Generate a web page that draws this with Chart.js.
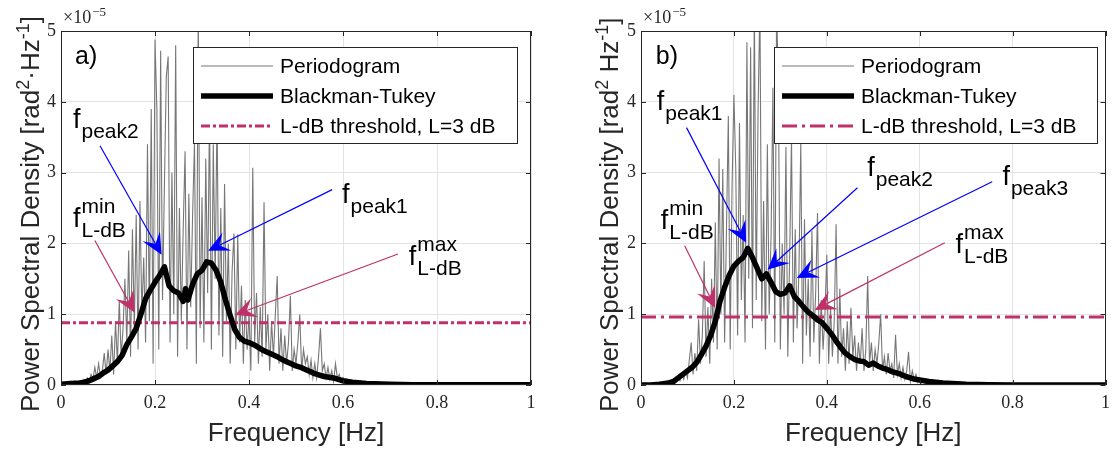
<!DOCTYPE html>
<html>
<head>
<meta charset="utf-8">
<script src="https://cdn.jsdelivr.net/npm/chart.js@4.4.0/dist/chart.umd.min.js"></script>
<style>
  html, body { margin: 0; padding: 0; background: #fff; }
  #wrap { position: relative; width: 1117px; height: 452px; }
  canvas { position: absolute; top: 0; }
  #chartA { left: 0; }
  #chartB { left: 557px; }
</style>
</head>
<body>
<div id="wrap">
  <canvas id="chartA" width="557" height="452"></canvas>
  <canvas id="chartB" width="560" height="452"></canvas>
</div>
<script>
'use strict';

// ---- data (PSD values in units of 1e-5) ----
const xTickVals = [0, 0.2, 0.4, 0.6, 0.8, 1];
const yTickVals = [0, 1, 2, 3, 4, 5];

// periodogram sampled every 0.004 Hz from 0 Hz
const perStart = 0;
const perStep = 0.004;

const perA = [
  0, 0.01, 0.02, 0.01, 0.03, 0.02, 0.04, 0.02, 0.05, 0.03, 0.06, 0.04, 0.08, 0.05, 0.1,
  0.05, 0.15, 0.08, 0.25, 0.1, 0.3, 0.12, 0.2, 0.45, 0.15,
  0.5, 0.2, 0.7, 0.15, 0.9, 0.3, 1.2, 0.4, 0.8, 1.5,
  0.6, 1.9, 0.4, 2.2, 0.8, 2.4, 0.5, 2.6, 1.0, 1.8,
  0.6, 3.4, 0.9, 3.9, 0.3, 4.88, 3.9, 0.5, 4.72, 1.2,
  2.8, 4.35, 4.64, 0.6, 3.0, 1.0, 4.8, 0.4, 2.5, 0.9,
  2.2, 3.3, 0.5, 2.7, 1.1, 2.4, 3.42, 0.3, 5.3, 0.8,
  2.65, 0.6, 3.2, 1.3, 3.86, 0.5, 3.4, 1.5, 3.86, 0.7,
  2.5, 0.4, 2.84, 0.9, 2.0, 0.3, 1.6, 2.14, 0.5, 2.13,
  0.6, 1.4, 0.3, 1.2, 0.5, 1.0, 0.2, 3.07, 0.6, 1.3,
  0.3, 1.1, 0.4, 2.58, 0.5, 1.0, 0.2, 0.9, 0.4, 1.0,
  1.54, 0.3, 0.8, 0.2, 0.7, 0.3, 0.6, 1.26, 0.2, 0.5,
  0.3, 0.6, 1.0, 0.2, 0.5, 0.3, 0.4, 0.15, 0.35, 0.1,
  0.3, 0.1, 0.4, 0.8, 0.2, 0.3, 0.1, 0.25, 0.08, 0.2,
  0.05, 0.3, 0.1, 0.15, 0.05, 0.1, 0.03, 0.08, 0.02, 0.05,
  0.01, 0.03, 0.01, 0.02, 0.005, 0.015, 0.01, 0.02, 0.005, 0.01,
  0.005, 0.01, 0.004, 0.008, 0.003, 0.006, 0.003, 0.005, 0.002, 0.004
];

const perB = [
  0, 0, 0.01, 0, 0.01, 0.02, 0.01, 0.02, 0.03, 0.02, 0.04, 0.02, 0.05, 0.03, 0.06,
  0.02, 0.05, 0.03, 0.08, 0.05, 0.1, 0.06, 0.15, 0.08, 0.2,
  0.1, 0.35, 0.6, 0.15, 0.45, 0.2, 0.93, 0.3, 0.7, 1.75,
  0.4, 1.1, 0.3, 1.5, 0.6, 2.3, 0.5, 3.2, 1.0, 3.05,
  0.6, 2.2, 3.8, 0.5, 2.8, 4.1, 3.06, 0.7, 3.7, 1.2,
  2.4, 0.6, 4.84, 1.5, 4.77, 0.8, 5.4, 1.2, 3.85, 5.4,
  0.9, 2.6, 0.5, 3.4, 1.0, 2.1, 4.2, 0.6, 5.4, 4.0,
  0.5, 2.0, 1.0, 3.36, 0.4, 1.8, 3.5, 0.6, 2.2, 0.8,
  1.6, 3.42, 0.3, 2.34, 0.7, 1.5, 0.4, 2.18, 0.6, 1.3,
  2.43, 0.3, 1.2, 0.5, 1.0, 1.84, 0.3, 1.1, 0.4, 0.9,
  2.27, 0.3, 1.36, 0.4, 0.8, 0.2, 0.9, 0.3, 1.09, 0.4,
  0.7, 0.2, 0.6, 0.3, 0.8, 0.2, 0.5, 1.54, 0.3, 0.6,
  0.2, 0.5, 0.3, 0.6, 1.0, 0.2, 0.4, 0.15, 0.45, 0.2,
  0.3, 0.1, 0.71, 0.15, 0.3, 0.1, 0.25, 0.08, 0.2, 0.47,
  0.05, 0.2, 0.08, 0.15, 0.04, 0.1, 0.03, 0.07, 0.02, 0.04,
  0.01, 0.02, 0.01, 0.015, 0.005, 0.01, 0.005, 0.01, 0.004, 0.006,
  0.003, 0.005, 0.002, 0.004, 0.002, 0.003, 0.001, 0.002, 0.001, 0.001
];

// Blackman-Tukey estimates
const btFreqA = [0, 0.02, 0.04, 0.05, 0.06, 0.07, 0.08, 0.09, 0.10, 0.11, 0.12, 0.13, 0.14,
  0.15, 0.16, 0.17, 0.18, 0.19, 0.20, 0.21, 0.22, 0.23, 0.24, 0.25, 0.26, 0.265, 0.27,
  0.28, 0.29, 0.30, 0.31, 0.32, 0.33, 0.34, 0.35, 0.36, 0.37, 0.38, 0.39, 0.40, 0.41,
  0.42, 0.43, 0.44, 0.45, 0.46, 0.47, 0.48, 0.49, 0.50, 0.51, 0.52, 0.53, 0.54, 0.55,
  0.56, 0.57, 0.58, 0.59, 0.60, 0.62, 0.65, 0.70, 0.75, 0.80, 0.90, 1.0];
const btA = [0.01, 0.02, 0.03, 0.04, 0.06, 0.09, 0.12, 0.17, 0.21, 0.27, 0.33, 0.42, 0.57,
  0.68, 0.80, 1.0, 1.22, 1.34, 1.45, 1.55, 1.67, 1.40, 1.33, 1.30, 1.18, 1.36, 1.2,
  1.42, 1.57, 1.62, 1.74, 1.72, 1.62, 1.45, 1.2, 0.98, 0.78, 0.67, 0.62, 0.6, 0.57,
  0.53, 0.49, 0.46, 0.43, 0.4, 0.36, 0.33, 0.3, 0.27, 0.25, 0.22, 0.19, 0.16, 0.14,
  0.12, 0.11, 0.1, 0.08, 0.06, 0.04, 0.02, 0.01, 0.005, 0.003, 0.002, 0.002];

const btFreqB = [0, 0.02, 0.04, 0.06, 0.07, 0.08, 0.09, 0.10, 0.11, 0.12, 0.13, 0.14, 0.15,
  0.16, 0.17, 0.18, 0.19, 0.20, 0.21, 0.22, 0.23, 0.24, 0.25, 0.26, 0.27, 0.28, 0.29,
  0.30, 0.31, 0.32, 0.33, 0.34, 0.35, 0.36, 0.37, 0.38, 0.39, 0.40, 0.41, 0.42, 0.43,
  0.44, 0.45, 0.46, 0.47, 0.48, 0.49, 0.50, 0.51, 0.52, 0.53, 0.54, 0.55, 0.56, 0.57,
  0.58, 0.59, 0.60, 0.62, 0.65, 0.70, 0.75, 0.80, 1.0];
const btB = [0, 0, 0.01, 0.03, 0.05, 0.1, 0.15, 0.2, 0.25, 0.32, 0.43, 0.55, 0.7,
  0.9, 1.18, 1.38, 1.55, 1.68, 1.75, 1.8, 1.93, 1.8, 1.65, 1.5, 1.57, 1.45, 1.32,
  1.28, 1.3, 1.4, 1.25, 1.18, 1.1, 1.03, 0.98, 0.92, 0.88, 0.8, 0.72, 0.62, 0.53,
  0.45, 0.4, 0.36, 0.34, 0.33, 0.28, 0.31, 0.27, 0.24, 0.22, 0.19, 0.17, 0.15, 0.12,
  0.1, 0.08, 0.07, 0.05, 0.03, 0.01, 0.005, 0, 0];

const thresholdA = 0.88;
const thresholdB = 0.96;

const legendLabels = ['Periodogram', 'Blackman-Tukey', 'L-dB threshold, L=3 dB'];

// ---- colours ----
const gray = '#777777';
const crimson = '#c0306a';
const blue = '#0000ff';
const axisCol = '#262626';

function gridPoints(start, step, vals) {
  return vals.map((v, i) => ({ x: +(start + i * step).toFixed(4), y: v }));
}
function zip(xs, ys) {
  return xs.map((x, i) => ({ x: x, y: ys[i] }));
}

function richText(ctx, parts, x, y) {
  let cx = x;
  for (let p of parts) {
    ctx.font = `${p.size}px "Liberation Sans", Arial, sans-serif`;
    ctx.fillText(p.t, cx, y + (p.dy || 0));
    cx += ctx.measureText(p.t).width;
  }
  return cx;
}

function drawArrow(ctx, x1, y1, x2, y2, color) {
  const dx = x2 - x1, dy = y2 - y1, len = Math.hypot(dx, dy);
  const ux = dx / len, uy = dy / len, nx = -uy, ny = ux;
  const L = 21, W = 10;
  ctx.strokeStyle = color;
  ctx.fillStyle = color;
  ctx.lineWidth = 1.2;
  ctx.setLineDash([]);
  ctx.beginPath();
  ctx.moveTo(x1, y1);
  ctx.lineTo(x2 - ux * L * 0.6, y2 - uy * L * 0.6);
  ctx.stroke();
  ctx.beginPath();
  ctx.moveTo(x2, y2);
  ctx.lineTo(x2 - ux * L + nx * W, y2 - uy * L + ny * W);
  ctx.lineTo(x2 - ux * L * 0.6, y2 - uy * L * 0.6);
  ctx.lineTo(x2 - ux * L - nx * W, y2 - uy * L - ny * W);
  ctx.closePath();
  ctx.fill();
}

// MATLAB-like decorations: box, inward ticks, labels, legend, annotations
const decoPlugin = {
  id: 'deco',
  afterDraw(chart, args, o) {
    const ctx = chart.ctx;
    const xs = chart.scales.x, ys = chart.scales.y;
    const a = chart.chartArea;
    const px = v => xs.getPixelForValue(v);
    const py = v => ys.getPixelForValue(v);
    ctx.save();

    // box + inward ticks
    ctx.strokeStyle = axisCol;
    ctx.lineWidth = 1;
    ctx.setLineDash([]);
    ctx.beginPath();
    for (let v of xTickVals) {
      const x = Math.round(px(v)) + 0.5;
      ctx.moveTo(x, a.bottom); ctx.lineTo(x, a.bottom - 5);
      ctx.moveTo(x, a.top); ctx.lineTo(x, a.top + 5);
    }
    for (let v of yTickVals) {
      const y = Math.round(py(v)) + 0.5;
      ctx.moveTo(a.left, y); ctx.lineTo(a.left + 5, y);
      ctx.moveTo(a.right, y); ctx.lineTo(a.right - 5, y);
    }
    ctx.stroke();
    ctx.strokeRect(Math.round(a.left) + 0.5, Math.round(a.top) + 0.5,
      Math.round(a.right - a.left) - 1, Math.round(a.bottom - a.top) - 1);

    // exponent label
    ctx.fillStyle = axisCol;
    ctx.textBaseline = 'alphabetic';
    ctx.textAlign = 'left';
    ctx.font = '18px "Liberation Serif", serif';
    ctx.fillText('\u00d710', a.left + 2, 23);
    const w10 = ctx.measureText('\u00d710').width;
    ctx.font = '13px "Liberation Serif", serif';
    ctx.fillText('\u22125', a.left + 3 + w10, 16);

    // axis titles
    ctx.fillStyle = axisCol;
    ctx.font = '26px "Liberation Sans", Arial, sans-serif';
    ctx.textAlign = 'center';
    ctx.fillText('Frequency [Hz]', (a.left + a.right) / 2, 441);
    ctx.textAlign = 'left';
    ctx.save();
    ctx.translate(o.yTitleX, 412);
    ctx.rotate(-Math.PI / 2);
    richText(ctx, o.yTitle, 0, 0);
    ctx.restore();

    // panel label
    ctx.fillStyle = '#000';
    ctx.font = '25px "Liberation Sans", Arial, sans-serif';
    ctx.fillText(o.label.text, px(o.label.x), py(o.label.y));

    // legend
    const lg = o.legend;
    const lx = a.left + lg.dx, ly = a.top + lg.dy;
    ctx.fillStyle = '#fff';
    ctx.fillRect(lx, ly, lg.w, lg.h);
    ctx.strokeStyle = axisCol;
    ctx.lineWidth = 1;
    ctx.strokeRect(Math.round(lx) + 0.5, Math.round(ly) + 0.5, lg.w, lg.h);
    [0, 1, 2].forEach(row => {
      const ds = chart.data.datasets[row];
      const ry = ly + 19 + row * 30;
      ctx.strokeStyle = ds.borderColor;
      ctx.lineWidth = ds.borderWidth;
      ctx.setLineDash(ds.borderDash || []);
      ctx.beginPath();
      ctx.moveTo(lx + 8, ry);
      ctx.lineTo(lx + 80, ry);
      ctx.stroke();
      ctx.setLineDash([]);
      ctx.fillStyle = '#000';
      ctx.font = '21px "Liberation Sans", Arial, sans-serif';
      ctx.textBaseline = 'middle';
      ctx.fillText(legendLabels[row], lx + 87, ry + 1);
    });
    ctx.textBaseline = 'alphabetic';

    // arrows
    for (let ar of o.arrows) {
      drawArrow(ctx, px(ar.from[0]), py(ar.from[1]), px(ar.to[0]), py(ar.to[1]), ar.color);
    }

    // f labels with sub/superscripts
    ctx.fillStyle = '#000';
    for (let t of o.texts) {
      const x = px(t.x), y = py(t.y);
      ctx.font = '27px "Liberation Sans", Arial, sans-serif';
      ctx.fillText('f', x, y);
      const fx = x + ctx.measureText('f').width + 1;
      ctx.font = '21px "Liberation Sans", Arial, sans-serif';
      if (t.sup) ctx.fillText(t.sup, fx, y - 14);
      if (t.sub) ctx.fillText(t.sub, fx, y + 10);
    }
    ctx.restore();
  }
};

function makeChart(canvasId, per, btF, bt, thr, yAxisWidth, rightPad, deco, dash) {
  const tickFont = { family: '"Liberation Serif", serif', size: 18 };
  return new Chart(document.getElementById(canvasId), {
    type: 'line',
    data: {
      datasets: [
        {
          label: legendLabels[0],
          data: gridPoints(perStart, perStep, per),
          borderColor: gray,
          borderWidth: 1.1,
          pointRadius: 0,
          order: 3
        },
        {
          label: legendLabels[1],
          data: zip(btF, bt),
          borderColor: '#000',
          borderWidth: 5.5,
          borderJoinStyle: 'round',
          pointRadius: 0,
          order: 1
        },
        {
          label: legendLabels[2],
          data: [{ x: 0, y: thr }, { x: 1, y: thr }],
          borderColor: crimson,
          borderWidth: 3,
          borderDash: dash,
          pointRadius: 0,
          order: 2
        }
      ]
    },
    options: {
      responsive: false,
      animation: false,
      parsing: false,
      layout: { padding: { top: 31, right: rightPad, left: 0, bottom: 0 } },
      plugins: {
        legend: { display: false },
        tooltip: { enabled: false },
        deco: deco
      },
      scales: {
        x: {
          type: 'linear',
          min: 0,
          max: 1,
          afterFit: s => { s.height = 67; },
          grid: { color: '#e3e3e3', drawTicks: false },
          border: { display: false },
          ticks: {
            stepSize: 0.2,
            autoSkip: false,
            maxRotation: 0,
            padding: 7,
            color: axisCol,
            font: tickFont,
            callback: v => String(+v.toFixed(1))
          }
        },
        y: {
          type: 'linear',
          min: 0,
          max: 5,
          afterFit: s => { s.width = yAxisWidth; },
          grid: { color: '#e3e3e3', drawTicks: false },
          border: { display: false },
          ticks: {
            stepSize: 1,
            padding: 5,
            color: axisCol,
            font: tickFont
          }
        }
      }
    },
    plugins: [decoPlugin]
  });
}

const decoA = {
  yTitleX: 39,
  yTitle: [
    { t: 'Power Spectral Density [rad', size: 26 },
    { t: '2', size: 18, dy: -10 },
    { t: '\u00b7Hz', size: 26 },
    { t: '-1', size: 18, dy: -10 },
    { t: ']', size: 26 }
  ],
  label: { text: 'a)', x: 0.030, y: 4.53 },
  legend: { dx: 132, dy: 16, w: 324, h: 96 },
  texts: [
    { x: 0.0255, y: 3.635, sub: 'peak2' },
    { x: 0.598, y: 2.574, sub: 'peak1' },
    { x: 0.0255, y: 2.235, sup: 'min', sub: 'L-dB' },
    { x: 0.740, y: 1.70, sup: 'max', sub: 'L-dB' }
  ],
  arrows: [
    { from: [0.083, 3.38], to: [0.214, 1.84], color: blue },
    { from: [0.577, 2.76], to: [0.313, 1.895], color: blue },
    { from: [0.072, 2.04], to: [0.157, 1.02], color: crimson },
    { from: [0.717, 1.85], to: [0.370, 0.99], color: crimson }
  ]
};

const decoB = {
  yTitleX: 618 - 557,
  yTitle: [
    { t: 'Power Spectral Density [rad', size: 26 },
    { t: '2', size: 18, dy: -10 },
    { t: ' Hz', size: 26 },
    { t: '-1', size: 18, dy: -10 },
    { t: ']', size: 26 }
  ],
  label: { text: 'b)', x: 0.032, y: 4.53 },
  legend: { dx: 133, dy: 16, w: 323, h: 96 },
  texts: [
    { x: 0.034, y: 3.89, sub: 'peak1' },
    { x: 0.487, y: 2.956, sub: 'peak2' },
    { x: 0.778, y: 2.83, sub: 'peak3' },
    { x: 0.0427, y: 2.207, sup: 'min', sub: 'L-dB' },
    { x: 0.677, y: 1.867, sup: 'max', sub: 'L-dB' }
  ],
  arrows: [
    { from: [0.098, 3.635], to: [0.2265, 2.01], color: blue },
    { from: [0.466, 2.786], to: [0.2724, 1.627], color: blue },
    { from: [0.756, 2.87], to: [0.3355, 1.513], color: blue },
    { from: [0.094, 1.966], to: [0.160, 1.089], color: crimson },
    { from: [0.654, 2.008], to: [0.374, 1.061], color: crimson }
  ]
};

makeChart('chartA', perA, btFreqA, btA, thresholdA, 61, 26, decoA, [9, 3, 3, 3]);
makeChart('chartB', perB, btFreqB, btB, thresholdB, 84, 8, decoB, [15, 5, 3, 5]);
</script>
</body>
</html>
